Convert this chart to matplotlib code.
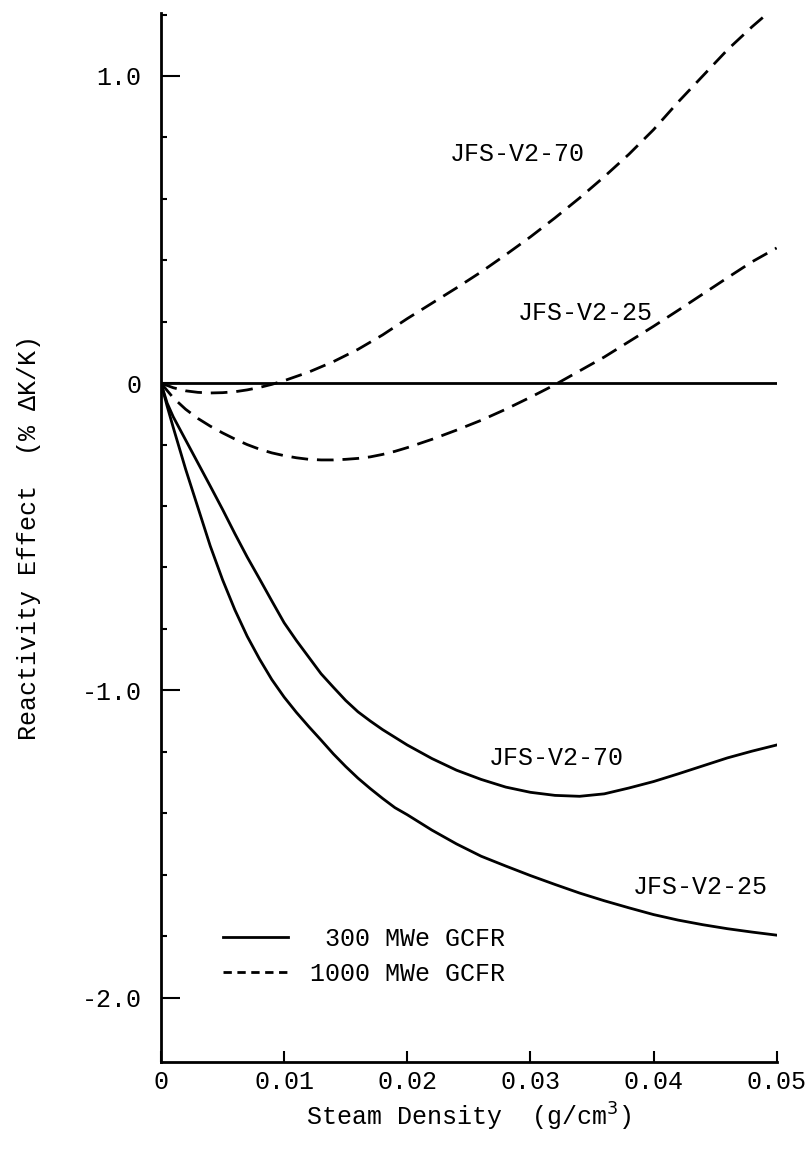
import matplotlib
matplotlib.use("Agg")
import matplotlib.pyplot as plt
from matplotlib.lines import Line2D

plt.rcParams['font.family'] = ['Liberation Mono', 'DejaVu Sans Mono']

# ---- data ----
# 300 MWe GCFR, JFS-V2-70 (solid, upper)
x_300_70 = [0, 0.0005, 0.001, 0.002, 0.003, 0.004, 0.005, 0.006, 0.007, 0.008,
            0.009, 0.010, 0.011, 0.012, 0.013, 0.014, 0.015, 0.016, 0.017, 0.018,
            0.019, 0.020, 0.022, 0.024, 0.026, 0.028, 0.030, 0.032, 0.034, 0.036,
            0.038, 0.040, 0.042, 0.044, 0.046, 0.048, 0.050]
y_300_70 = [0, -0.065, -0.11, -0.185, -0.26, -0.335, -0.411, -0.49, -0.566, -0.637,
            -0.709, -0.78, -0.838, -0.892, -0.946, -0.99, -1.033, -1.07, -1.10, -1.128,
            -1.153, -1.178, -1.222, -1.26, -1.29, -1.315, -1.332, -1.342, -1.345, -1.337,
            -1.318, -1.297, -1.272, -1.246, -1.22, -1.198, -1.178]
# 300 MWe GCFR, JFS-V2-25 (solid, lower)
x_300_25 = [0, 0.0005, 0.001, 0.002, 0.003, 0.004, 0.005, 0.006, 0.007, 0.008,
            0.009, 0.010, 0.011, 0.012, 0.013, 0.014, 0.015, 0.016, 0.017, 0.018,
            0.019, 0.020, 0.022, 0.024, 0.026, 0.028, 0.030, 0.032, 0.034, 0.036,
            0.038, 0.040, 0.042, 0.044, 0.046, 0.048, 0.050]
y_300_25 = [0, -0.075, -0.145, -0.28, -0.405, -0.53, -0.64, -0.738, -0.824, -0.898,
            -0.965, -1.022, -1.072, -1.118, -1.162, -1.207, -1.248, -1.286, -1.32, -1.352,
            -1.382, -1.405, -1.455, -1.50, -1.54, -1.572, -1.603, -1.632, -1.66, -1.685,
            -1.708, -1.73, -1.748, -1.763, -1.776, -1.787, -1.797]
# 1000 MWe GCFR, JFS-V2-70 (dashed, upper)
x_1000_70 = [0, 0.001, 0.002, 0.003, 0.004, 0.005, 0.006, 0.007, 0.008, 0.009,
             0.010, 0.012, 0.014, 0.016, 0.018, 0.020, 0.022, 0.024, 0.026, 0.028,
             0.030, 0.032, 0.034, 0.036, 0.038, 0.040, 0.042, 0.044, 0.046, 0.048,
             0.0493]
y_1000_70 = [0, -0.015, -0.025, -0.030, -0.032, -0.031, -0.028, -0.022, -0.014, -0.004,
             0.008, 0.036, 0.070, 0.110, 0.157, 0.210, 0.260, 0.310, 0.362, 0.418,
             0.476, 0.538, 0.603, 0.672, 0.745, 0.825, 0.915, 1.000, 1.085, 1.160,
             1.205]
# 1000 MWe GCFR, JFS-V2-25 (dashed, lower)
x_1000_25 = [0, 0.001, 0.002, 0.003, 0.004, 0.005, 0.006, 0.007, 0.008, 0.009,
             0.010, 0.011, 0.012, 0.013, 0.014, 0.015, 0.016, 0.017, 0.018, 0.019,
             0.020, 0.022, 0.024, 0.026, 0.028, 0.030, 0.032, 0.034, 0.036, 0.038,
             0.040, 0.042, 0.044, 0.046, 0.048, 0.050]
y_1000_25 = [0, -0.048, -0.085, -0.115, -0.140, -0.162, -0.182, -0.200, -0.215, -0.227,
             -0.236, -0.243, -0.248, -0.250, -0.250, -0.248, -0.245, -0.240, -0.232, -0.222,
             -0.210, -0.183, -0.153, -0.121, -0.085, -0.046, -0.005, 0.040, 0.085, 0.135,
             0.185, 0.237, 0.290, 0.343, 0.395, 0.440]
# zero reference line
x_zero = [0, 0.05]
y_zero = [0, 0]

curve_labels = ['JFS-V2-70', 'JFS-V2-25', 'JFS-V2-70', 'JFS-V2-25']
label_pos = [(0.0289, 0.747), (0.0345, 0.227), (0.0321, -1.22), (0.0438, -1.64)]
legend_labels = [' 300 MWe GCFR', '1000 MWe GCFR']

xticks = [0, 0.01, 0.02, 0.03, 0.04, 0.05]
xticklabels = ['0', '0.01', '0.02', '0.03', '0.04', '0.05']
yticks = [1.0, 0.0, -1.0, -2.0]
yticklabels = ['1.0', '0', '-1.0', '-2.0']
yminor = [-1.8, -1.6, -1.4, -1.2, -0.8, -0.6, -0.4, -0.2, 0.2, 0.4, 0.6, 0.8, 1.2]

FS = 18
fig = plt.figure(figsize=(8.09, 11.49), dpi=100)
ax = fig.add_axes([0.199, 0.0757, 0.761, 0.913])

lw = 2.0
dash = (6, 3.2)
ax.plot(x_zero, y_zero, color='black', lw=lw, solid_capstyle='butt')
ax.plot(x_300_70, y_300_70, color='black', lw=lw)
ax.plot(x_300_25, y_300_25, color='black', lw=lw)
ax.plot(x_1000_70, y_1000_70, color='black', lw=lw, dashes=dash)
ax.plot(x_1000_25, y_1000_25, color='black', lw=lw, dashes=dash)

for t, (px, py) in zip(curve_labels, label_pos):
    ax.text(px, py, t, fontsize=FS, ha='center', va='center')

ax.set_xlim(0, 0.05)
ax.set_ylim(-2.21, 1.205)

for s in ['top', 'right']:
    ax.spines[s].set_visible(False)
for s in ['left', 'bottom']:
    ax.spines[s].set_linewidth(2.0)

ax.set_xticks(xticks)
ax.set_xticklabels(xticklabels, fontsize=FS)
ax.set_yticks(yticks)
ax.set_yticklabels(yticklabels, fontsize=FS)
ax.set_yticks(yminor, minor=True)
ax.tick_params(axis='x', direction='in', length=8, width=1.5, pad=6)
ax.tick_params(axis='y', which='major', direction='in', length=14, width=1.5, pad=14)
ax.tick_params(axis='y', which='minor', direction='in', length=4, width=1.5)

ax.set_xlabel('Steam Density  (g/cm$^3$)', fontsize=FS, labelpad=5)
ax.set_ylabel('Reactivity Effect  (% \u0394K/K)', fontsize=FS, labelpad=29)

handles = [Line2D([], [], color='black', lw=2.0),
           Line2D([], [], color='black', lw=2.0, dashes=(3, 2))]
ax.legend(handles, legend_labels, loc='upper left', bbox_to_anchor=(0.1, 0.129),
          frameon=False, fontsize=FS, handlelength=2.6, handletextpad=0.9,
          borderpad=0, borderaxespad=0, labelspacing=0.45)

fig.savefig('out.png', dpi=100)
